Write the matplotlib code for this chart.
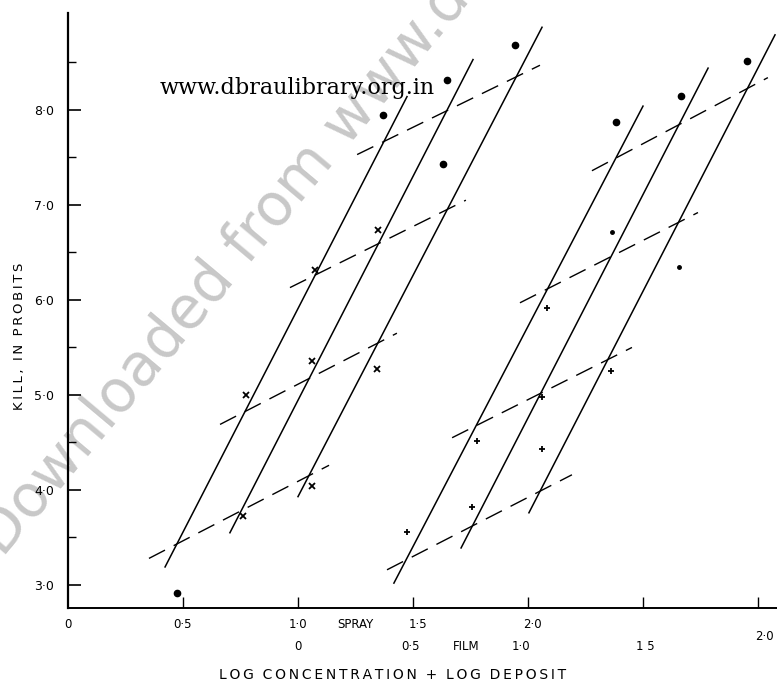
import numpy as np
import matplotlib
matplotlib.use("Agg")
import matplotlib.pyplot as plt
import matplotlib.transforms as mtransforms

# ---------------- DATA (x = log conc. spray scale, film = spray - 1) ----------------
# steep regression lines (solid): start/end points
solid_x0 = [0.422, 0.704, 1.000, 1.417, 1.709, 2.004]
solid_y0 = [3.19, 3.55, 3.93, 3.02, 3.39, 3.76]
solid_x1 = [1.474, 1.761, 2.061, 2.500, 2.783, 3.074]
solid_y1 = [8.14, 8.53, 8.87, 8.04, 8.44, 8.79]

# shallow lines (dashed): start/end points
dash_x0 = [0.352, 0.661, 0.965, 1.257, 1.387, 1.670, 1.965, 2.278]
dash_y0 = [3.28, 4.69, 6.13, 7.53, 3.16, 4.55, 5.97, 7.36]
dash_x1 = [1.135, 1.430, 1.730, 2.052, 2.191, 2.452, 2.739, 3.043]
dash_y1 = [4.26, 5.65, 7.05, 8.47, 4.16, 5.50, 6.92, 8.34]

# observed points
dot_x = [0.474, 1.370, 1.630, 1.648, 1.943, 2.383, 2.665, 2.952]
dot_y = [2.92, 7.95, 7.43, 8.31, 8.68, 7.87, 8.15, 8.52]
cross_x = [0.761, 0.774, 1.061, 1.061, 1.343, 1.074, 1.348]
cross_y = [3.73, 5.00, 4.04, 5.36, 5.27, 6.31, 6.74]
plus_x = [1.474, 1.757, 1.778, 2.061, 2.061, 2.083, 2.361]
plus_y = [3.56, 3.82, 4.52, 4.43, 4.98, 5.92, 5.25]
small_x = [2.365, 2.657]
small_y = [6.72, 6.35]

# axis labels
ytick_vals = [3, 4, 5, 6, 7, 8]
ytick_text = ["3·0", "4·0", "5·0", "6·0", "7·0", "8·0"]
xtick_vals = [0.5, 1.0, 1.5, 2.0, 2.5, 3.0]
spray_pos = [0.0, 0.5, 1.0, 1.25, 1.52, 2.02]
spray_text = ["0", "0·5", "1·0", "SPRAY", "1·5", "2·0"]
film_pos = [1.0, 1.49, 1.73, 1.97, 2.51]
film_text = ["0", "0·5", "FILM", "1·0", "1 5"]


def spaced(s):
    # letter-spacing with thin spaces, like the old typeset labels
    return "\u2009".join(s)


# ---------------- PLOT ----------------
plt.rcParams['font.family'] = ['DejaVu Sans']
W, H = 777, 682
fig = plt.figure(figsize=(W / 100, H / 100), dpi=100)
ax = fig.add_axes([68 / W, 1 - 608 / H, (W - 68) / W, (608 - 13) / H])
ax.patch.set_alpha(0)
ax.set_xlim(0, (W - 68) / 230)
ax.set_ylim(2.758, 9.02)

for sp in ['top', 'right']:
    ax.spines[sp].set_visible(False)
ax.spines['left'].set_linewidth(1.6)
ax.spines['bottom'].set_linewidth(1.4)

# watermark (under the axes)
fig.text(-10 / W, 1 - 548 / H, "Downloaded from www.dbraulibrary.org.in", fontsize=42,
         color='#c8c8c8', rotation=50, rotation_mode='anchor',
         ha='left', va='center', zorder=-1)
fig.text(160 / W, 1 - 88 / H, "www.dbraulibrary.org.in", family='DejaVu Serif',
         fontsize=16, color='black', va='center', ha='left')

for x0, y0, x1, y1 in zip(solid_x0, solid_y0, solid_x1, solid_y1):
    ax.plot([x0, x1], [y0, y1], color='black', lw=1.1)
for x0, y0, x1, y1 in zip(dash_x0, dash_y0, dash_x1, dash_y1):
    ax.plot([x0, x1], [y0, y1], color='black', lw=1.0, dashes=(13, 7))

ax.plot(dot_x, dot_y, 'o', color='black', ms=4.5, ls='none')
ax.plot(cross_x, cross_y, 'x', color='black', ms=4, mew=1.3, ls='none')
ax.plot(plus_x, plus_y, '+', color='black', ms=5, mew=1.3, ls='none')
ax.plot(small_x, small_y, 'o', color='black', ms=2.5, ls='none')

# y axis
ax.set_yticks(ytick_vals)
ax.set_yticklabels(ytick_text, fontsize=9)
ax.set_yticks(np.arange(3.5, 9.0, 1.0), minor=True)
ax.tick_params(axis='y', which='major', direction='in', length=9, width=1.2, pad=10)
ax.tick_params(axis='y', which='minor', direction='in', length=6, width=1.0)
fig.text(20 / W, 1 - 336 / H, spaced("KILL,") + "  " + spaced("IN") + "  " + spaced("PROBITS"),
         rotation=90, ha='center', va='center', fontsize=9.5)

# x axis: two scales written as text
ax.set_xticks(xtick_vals)
ax.set_xticklabels([])
ax.tick_params(axis='x', direction='in', length=8, width=1.0)
tr = mtransforms.blended_transform_factory(ax.transData, fig.transFigure)
for p, t in zip(spray_pos, spray_text):
    ax.text(p, 1 - 624 / H, t, transform=tr, ha='center', va='center', fontsize=8.5)
for p, t in zip(film_pos, film_text):
    ax.text(p, 1 - 646 / H, t, transform=tr, ha='center', va='center', fontsize=8.5)
ax.text(3.03, 1 - 637 / H, "2·0", transform=tr, ha='center', va='center', fontsize=8.5)
xlabel = "  ".join(spaced(w) for w in ["LOG", "CONCENTRATION", "+", "LOG", "DEPOSIT"])
fig.text(393 / W, 1 - 675 / H, xlabel, ha='center', va='center', fontsize=10)

fig.savefig("out.png", dpi=100)
